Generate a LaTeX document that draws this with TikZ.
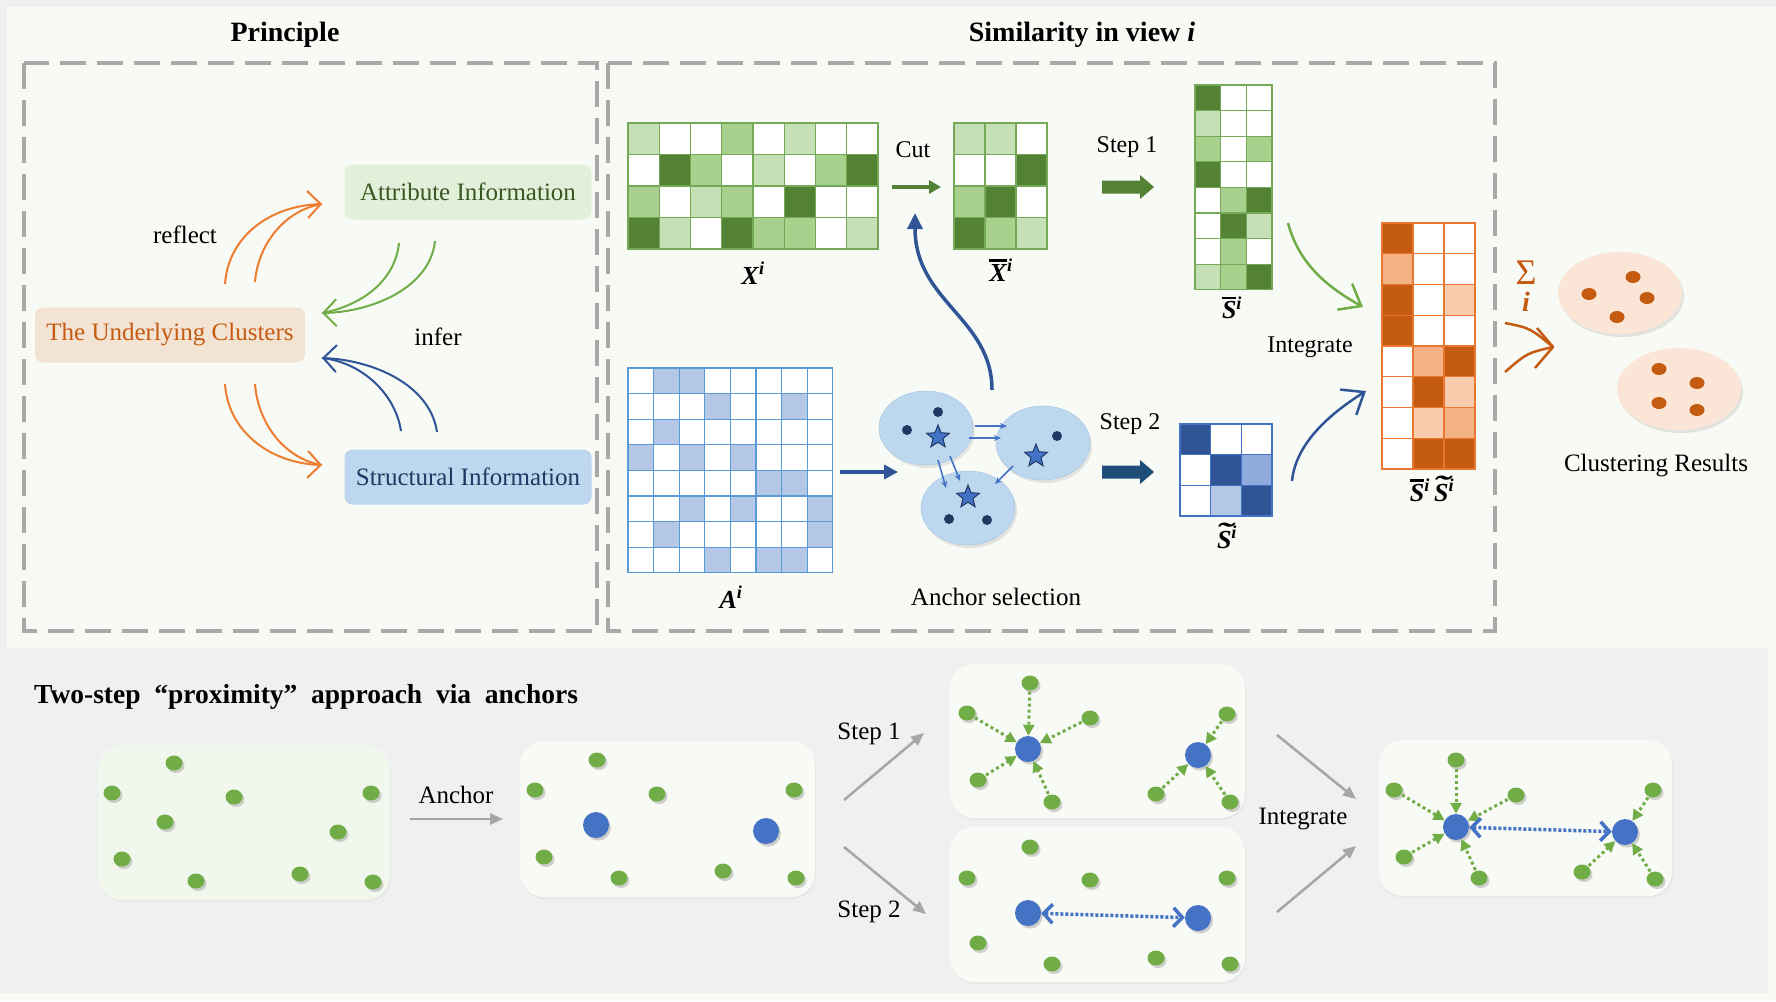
\RequirePackage{fix-cm}
\documentclass[tikz,border=0pt]{standalone}
\usepackage{fontspec}
\setmainfont{Liberation Serif}
\usetikzlibrary{arrows.meta,shapes.geometric,shadows}
\definecolor{bgl}{HTML}{F8FAF5}
\definecolor{bgg}{HTML}{F0F0F0}
\definecolor{dashc}{HTML}{A9A9A9}
\definecolor{gW}{HTML}{FFFFFF}
\definecolor{gL}{HTML}{C5E0B4}
\definecolor{gM}{HTML}{A9D18E}
\definecolor{gD}{HTML}{548235}
\definecolor{gline}{HTML}{74A957}
\definecolor{aW}{HTML}{FFFFFF}
\definecolor{aB}{HTML}{B4C7E7}
\definecolor{aline}{HTML}{5B9BD5}
\definecolor{sW}{HTML}{FFFFFF}
\definecolor{sD}{HTML}{2F5597}
\definecolor{sM}{HTML}{8FAADC}
\definecolor{sL}{HTML}{B4C7E7}
\definecolor{sline}{HTML}{4472C4}
\definecolor{oW}{HTML}{FFFFFF}
\definecolor{oD}{HTML}{C55A11}
\definecolor{oM}{HTML}{F4B183}
\definecolor{oL}{HTML}{F8CBAD}
\definecolor{oline}{HTML}{E8782F}
\definecolor{orangeA}{HTML}{ED7D31}
\definecolor{greenA}{HTML}{70AD47}
\definecolor{blueA}{HTML}{2F5597}
\definecolor{blueM}{HTML}{4472C4}
\definecolor{navyd}{HTML}{203864}
\definecolor{stepblue}{HTML}{1F4E79}
\definecolor{attrfill}{HTML}{E2F0D9}
\definecolor{attrtext}{HTML}{385723}
\definecolor{clfill}{HTML}{F3E3D3}
\definecolor{cltext}{HTML}{C55A11}
\definecolor{stfill}{HTML}{BDD7EE}
\definecolor{sttext}{HTML}{1F3864}
\definecolor{peach}{HTML}{FBE5D6}
\definecolor{greyA}{HTML}{A6A6A6}
\definecolor{dotg}{HTML}{70AD47}
\definecolor{dotb}{HTML}{4472C4}
\definecolor{pfillone}{HTML}{F1F7EC}
\newcommand{\fsz}[1]{\fontsize{#1}{#1}\selectfont}
\newcommand{\bi}[1]{\textbf{\textit{#1}}}
\newcommand{\barbi}[1]{\leavevmode\vbox{\hrule height 2.2pt\kern 2.5pt\hbox{\bi{#1}}}}
\newcommand{\tilbi}[1]{\leavevmode\setbox0\hbox{\bi{#1}}\rlap{\hbox to \wd0{\hss\hskip 3pt\raisebox{5.5pt}{\scalebox{1.9}[1.1]{\bi{˜}}}\hss}}\box0}
\newcommand{\cellgrid}[6]{%
  \foreach \rw [count=\ri from 0] in {#6} {%
    \foreach \cc [count=\ki from 0] in \rw {%
      \filldraw[fill=#5\cc, draw=#5line, line width=1.3pt] ({#1+\ki*#3},{#2+\ri*#4}) rectangle ++(#3,#4);
    }%
  }%
}
\begin{document}
\begin{tikzpicture}[x=1pt,y=-1pt,
  txt/.style={font=\fsz{25}, inner sep=1pt},
  lab/.style={font=\fsz{26}, inner sep=1pt},
  box/.style={rectangle, rounded corners=8pt, minimum height=55pt, inner sep=0pt, font=\fsz{25}},
  oarc/.style={draw=orangeA, line width=2pt},
  garc/.style={draw=greenA, line width=2pt},
  barc/.style={draw=blueA, line width=2pt},
  chev/.style={-{Straight Barb[length=13pt,width=27pt]}},
  aell/.style={ellipse, minimum width=94pt, minimum height=74pt, fill=stfill, draw=stfill!85!blueM, line width=0.6pt, drop shadow={shadow xshift=2pt,shadow yshift=-3pt,opacity=0.18}},
  ndot/.style={circle, minimum size=10pt, inner sep=0pt, fill=navyd},
  astar/.style={star, star points=5, star point ratio=2.3, minimum size=24pt, inner sep=0pt, fill=blueM, draw=navyd, line width=1pt},
  sarr/.style={draw=blueM, line width=1.6pt, -{Stealth[length=7pt,width=6pt]}},
  cell/.style={ellipse, minimum width=124pt, minimum height=82pt, fill=peach, drop shadow={shadow xshift=2pt,shadow yshift=-3pt,opacity=0.18}},
  odot/.style={ellipse, minimum width=15pt, minimum height=12pt, inner sep=0pt, fill=oD},
  panel/.style={rectangle, rounded corners=24pt, inner sep=0pt, fill=bgl, drop shadow={shadow xshift=1pt,shadow yshift=-2pt,opacity=0.08}},
  gdot/.style={ellipse, minimum width=17pt, minimum height=15pt, inner sep=0pt, fill=dotg, drop shadow={shadow xshift=2pt,shadow yshift=-2.5pt,opacity=0.35}},
  bdot/.style={circle, minimum size=26pt, inner sep=0pt, fill=dotb, drop shadow={shadow xshift=2pt,shadow yshift=-2.5pt,opacity=0.35}},
  garr/.style={draw=dotg, line width=3pt, dash pattern=on 3pt off 3pt, -{Triangle[length=11pt,width=11pt]}, shorten <=1pt},
  barr/.style={draw=blueM, line width=3.5pt, dash pattern=on 3pt off 2pt, {Straight Barb[length=9pt,width=19pt]}-{Straight Barb[length=9pt,width=19pt]}},
  grarr/.style={draw=greyA, line width=2.5pt, -{Triangle[length=13pt,width=11pt]}}
]
\useasboundingbox (0,0) rectangle (1776,1001);
% backgrounds
\fill[bgl] (0,0) rectangle (1776,1001);
\fill[bgg] (0,0) rectangle (1776,7);
\fill[bgg] (0,0) rectangle (7,648);
\fill[bgg] (0,648) rectangle (1768,993);

% titles
\node[font=\fsz{28}\bfseries] (tPrin) at (285,35) {Principle};
\node[font=\fsz{28}\bfseries] (tSim) at (1082,35) {Similarity in view \textit{i}};

% dashed boxes
\draw[dashc, line width=3.3pt, dash pattern=on 26pt off 11pt] (24,63) rectangle (597,631);
\draw[dashc, line width=3.3pt, dash pattern=on 26pt off 11pt] (608,63) rectangle (1495,631);

% ---------- Principle ----------
\node[box, fill=attrfill, text=attrtext, minimum width=247pt] (attr) at (468,192) {Attribute Information};
\node[box, fill=clfill, text=cltext, minimum width=270pt] (clus) at (170,335) {The Underlying Clusters};
\node[box, fill=stfill, text=sttext, minimum width=247pt] (stru) at (468,477) {Structural Information};
\node[txt] (reflect) at (185,235) {reflect};
\node[txt] (infer) at (438,337) {infer};

\coordinate (ouA) at (225,284); \coordinate (ouB) at (255,282); \coordinate (ouE) at (322,204);
\draw[oarc, chev] (ouA) .. controls (228,238) and (268,206) .. (ouE);
\draw[oarc] (ouB) .. controls (258,244) and (285,210) .. (ouE);
\coordinate (odA) at (225,384); \coordinate (odB) at (255,384); \coordinate (odE) at (322,465);
\draw[oarc, chev] (odA) .. controls (228,430) and (268,463) .. (odE);
\draw[oarc] (odB) .. controls (258,424) and (285,459) .. (odE);
\coordinate (gA) at (435,241); \coordinate (gB) at (399,243); \coordinate (gE) at (322,313);
\draw[garc, chev] (gA) .. controls (430,288) and (372,312) .. (gE);
\draw[garc] (gB) .. controls (395,282) and (360,306) .. (gE);
\coordinate (bA) at (437,432); \coordinate (bB) at (401,431); \coordinate (bE) at (322,358);
\draw[barc, chev] (bA) .. controls (430,384) and (372,360) .. (bE);
\draw[barc] (bB) .. controls (395,392) and (360,362) .. (bE);

% ---------- Similarity ----------
\cellgrid{628}{123}{31.25}{31.5}{g}{{L,W,W,M,W,L,W,W},{W,D,M,W,L,W,M,D},{M,W,L,M,W,D,W,W},{D,L,W,D,M,M,W,L}}
\cellgrid{954}{123}{31}{31.5}{g}{{L,L,W},{W,W,D},{M,D,W},{D,M,L}}
\cellgrid{628}{368}{25.6}{25.6}{a}{{W,B,B,W,W,W,W,W},{W,W,W,B,W,W,B,W},{W,B,W,W,W,W,W,W},{B,W,B,W,B,W,W,W},{W,W,W,W,W,B,B,W},{W,W,B,W,B,W,W,B},{W,B,W,W,W,W,W,B},{W,W,W,B,W,B,B,W}}
\cellgrid{1195}{85}{25.7}{25.6}{g}{{D,W,W},{L,W,W},{M,W,M},{D,W,W},{W,M,D},{W,D,L},{W,M,W},{L,M,D}}
\cellgrid{1180}{424}{30.7}{30.7}{s}{{D,W,W},{W,D,M},{W,L,D}}
\cellgrid{1382}{223}{31}{30.75}{o}{{D,W,W},{M,W,W},{D,W,L},{D,W,W},{W,M,D},{W,D,L},{W,L,M},{W,D,D}}

\node[lab] (labX) at (753,273) {\bi{X}\textsuperscript{\bi{i}}};
\node[lab] (labXb) at (1001,270) {\barbi{X}\textsuperscript{\bi{i}}};
\node[lab] (labA) at (731,597) {\bi{A}\textsuperscript{\bi{i}}};
\node[lab] (labSb) at (1232,308) {\barbi{S}\textsuperscript{\bi{i}}};
\node[lab] (labSt) at (1227,536) {\tilbi{S}\textsuperscript{\bi{i}}};
\node[lab] (labSS) at (1432,489) {\barbi{S}\textsuperscript{\bi{i}}\,\tilbi{S}\textsuperscript{\bi{i}}};

% cut arrow
\node[font=\fsz{24}] (cut) at (913,150) {Cut};
\coordinate (cutS) at (892,187); \coordinate (cutE) at (941,187);
\draw[draw=gD, line width=4.5pt, -{Triangle[length=12pt,width=13pt]}] (cutS) -- (cutE);

% anchor selection
\node[aell] (e1) at (926,428) {};
\node[aell] (e2) at (1043,443) {};
\node[aell] (e3) at (968,508) {};
\node[ndot] (d1) at (938,412) {};
\node[ndot] (d2) at (907,430) {};
\node[ndot] (d3) at (1057,436) {};
\node[ndot] (d4) at (949,519) {};
\node[ndot] (d5) at (987,520) {};
\node[astar] (s1) at (938,437) {};
\node[astar] (s2) at (1036,456) {};
\node[astar] (s3) at (968,497) {};
\coordinate (a1s) at (975,426); \coordinate (a1e) at (1007,426);
\coordinate (a2s) at (969,438); \coordinate (a2e) at (1001,438);
\coordinate (a3s) at (938,460); \coordinate (a3e) at (946,488);
\coordinate (a4s) at (950,456); \coordinate (a4e) at (960,481);
\coordinate (a5s) at (1013,466); \coordinate (a5e) at (995,484);
\draw[sarr] (a1s) -- (a1e);
\draw[sarr] (a2s) -- (a2e);
\draw[sarr] (a3s) -- (a3e);
\draw[sarr] (a4s) -- (a4e);
\draw[sarr] (a5s) -- (a5e);
\node[txt] (ansel) at (996,597) {Anchor selection};

\coordinate (amS) at (840,472); \coordinate (amE) at (898,472);
\draw[draw=blueA, line width=4pt, -{Triangle[length=14pt,width=14pt]}] (amS) -- (amE);
\coordinate (cvS) at (992,390); \coordinate (cvE) at (915,213);
\draw[draw=blueA, line width=3.5pt, -{Triangle[length=16pt,width=15pt]}] (cvS) .. controls (992,318) and (915,302) .. (cvE);

% step arrows (block arrows)
\node[font=\fsz{24}] (st1) at (1127,147) {Step 1};
\fill[gD] (1102,180.5) -- (1140,180.5) -- (1140,175) -- (1154,187) -- (1140,199) -- (1140,193.5) -- (1102,193.5) -- cycle;
\node[font=\fsz{24}] (st2) at (1130,424) {Step 2};
\fill[stepblue] (1102,465.5) -- (1140,465.5) -- (1140,460) -- (1154,472) -- (1140,484) -- (1140,478.5) -- (1102,478.5) -- cycle;

% integrate arrows
\coordinate (igS) at (1288,223); \coordinate (igE) at (1363,307);
\draw[draw=greenA, line width=2.5pt, -{Straight Barb[length=19pt,width=30pt]}] (igS) .. controls (1300,268) and (1333,290) .. (igE);
\coordinate (ibS) at (1292,481); \coordinate (ibE) at (1366,391);
\draw[draw=blueA, line width=2.5pt, -{Straight Barb[length=19pt,width=30pt]}] (ibS) .. controls (1296,440) and (1336,410) .. (ibE);
\node[font=\fsz{24}] (integ) at (1310,347) {Integrate};

% sum
\node[font=\fsz{36}, text=oD, inner sep=0pt] (sig) at (1526,273) {Σ};
\node[font=\fsz{28}, text=oD, inner sep=0pt] (sigi) at (1526,302) {\bi{i}};
\coordinate (smU) at (1505,323); \coordinate (smL) at (1505,372); \coordinate (smT) at (1553,347);
\coordinate (smA) at (1537,328); \coordinate (smB) at (1535,368);
\draw[draw=oD, line width=2.5pt] (smU) .. controls (1530,328) .. (smT);
\draw[draw=oD, line width=2.5pt] (smL) .. controls (1527,353) .. (smT);
\draw[draw=oD, line width=2.5pt, line join=round] (smA) -- (smT) -- (smB);

% clustering results
\node[cell] (cr1) at (1620,293) {};
\node[cell] (cr2) at (1679,389) {};
\node[odot] (o1) at (1633,277) {};
\node[odot] (o2) at (1589,294) {};
\node[odot] (o3) at (1647,298) {};
\node[odot] (o4) at (1617,317) {};
\node[odot] (o5) at (1659,369) {};
\node[odot] (o6) at (1697,383) {};
\node[odot] (o7) at (1659,403) {};
\node[odot] (o8) at (1697,410) {};
\node[txt] (cres) at (1656,466) {Clustering Results};

% ---------- bottom ----------
\node[font=\fsz{27.5}\bfseries, anchor=west, inner sep=0pt] (btitle) at (34,697) {Two-step \ “proximity” \ approach \ via \ anchors};

\node[panel, fill=pfillone, minimum width=292pt, minimum height=155pt] (pan1) at (244,822.5) {};
\node[panel, minimum width=295pt, minimum height=156pt] (pan2) at (667.5,819) {};
\node[panel, minimum width=295pt, minimum height=154pt] (pan3) at (1097.5,741) {};
\node[panel, minimum width=295pt, minimum height=155pt] (pan4) at (1097.5,904.5) {};
\node[panel, minimum width=293pt, minimum height=156pt] (pan5) at (1525.5,818) {};

\foreach \p [count=\n] in {(174,763),(112,793),(234,797),(371,793),(165,822),(338,832),(122,859),(196,881),(300,874),(373,882)}
  \node[gdot] (p1g\n) at \p {};
\foreach \p [count=\n] in {(597,760),(535,790),(657,794),(794,790),(544,857),(619,878),(723,871),(796,878)}
  \node[gdot] (p2g\n) at \p {};
\node[bdot] (p2b1) at (596,825) {};
\node[bdot] (p2b2) at (766,831) {};

\foreach \p [count=\n] in {(1030,683),(967,713),(1090,718),(978,780),(1052,802),(1227,714),(1156,794),(1230,802)}
  \node[gdot] (p3g\n) at \p {};
\node[bdot] (p3b1) at (1028,749) {};
\node[bdot] (p3b2) at (1198,755) {};
\foreach \n in {1,...,5} \draw[garr] (p3g\n) -- (p3b1);
\foreach \n in {6,7,8} \draw[garr] (p3g\n) -- (p3b2);

\foreach \p [count=\n] in {(1030,847),(967,878),(1090,880),(1227,878),(978,943),(1052,964),(1156,958),(1230,964)}
  \node[gdot] (p4g\n) at \p {};
\node[bdot] (p4b1) at (1028,913) {};
\node[bdot] (p4b2) at (1198,918) {};
\draw[barr] (p4b1) -- (p4b2);

\foreach \p [count=\n] in {(1456,760),(1394,790),(1516,795),(1404,857),(1479,878),(1653,790),(1582,872),(1655,879)}
  \node[gdot] (p5g\n) at \p {};
\node[bdot] (p5b1) at (1456,827) {};
\node[bdot] (p5b2) at (1625,832) {};
\foreach \n in {1,...,5} \draw[garr] (p5g\n) -- (p5b1);
\foreach \n in {6,7,8} \draw[garr] (p5g\n) -- (p5b2);
\draw[barr] (p5b1) -- (p5b2);

% grey arrows
\node[txt] (tAnc) at (456,795) {Anchor};
\coordinate (gaS) at (410,819); \coordinate (gaE) at (503,819);
\draw[grarr] (gaS) -- (gaE);
\node[txt] (tS1) at (869,734) {Step 1};
\coordinate (g1S) at (844,800); \coordinate (g1E) at (924,733);
\draw[grarr] (g1S) -- (g1E);
\node[txt] (tS2) at (869,912) {Step 2};
\coordinate (g2S) at (844,847); \coordinate (g2E) at (926,914);
\draw[grarr] (g2S) -- (g2E);
\node[txt] (tInt) at (1303,819) {Integrate};
\coordinate (g3S) at (1277,735); \coordinate (g3E) at (1356,799);
\draw[grarr] (g3S) -- (g3E);
\coordinate (g4S) at (1277,912); \coordinate (g4E) at (1356,846);
\draw[grarr] (g4S) -- (g4E);
\end{tikzpicture}
\end{document}
